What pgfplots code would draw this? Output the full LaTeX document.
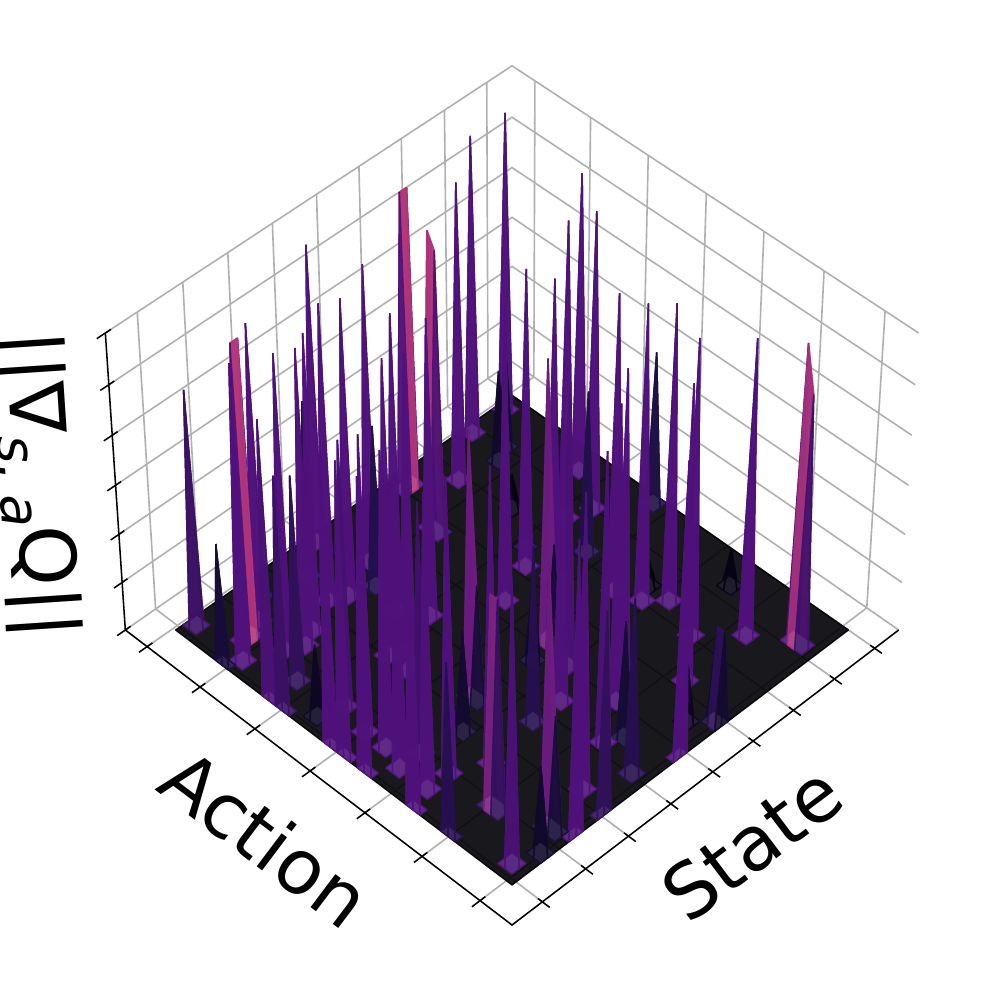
\documentclass[border=0pt]{standalone}
\usepackage{fontspec}
\setmainfont{DejaVu Sans}
\usepackage{pgfplots}
\pgfplotsset{compat=1.18}
\usepackage{pgfplotstable}

% one peak: the four faces round a grid point, back to front
\pgfplotstableread{
di dj p
1 1 0
1 0 0
0 0 1
0 1 0
1 0 0
1 -1 0
0 -1 0
0 0 1
0 1 0
0 0 1
-1 0 0
-1 1 0
0 0 1
0 -1 0
-1 -1 0
-1 0 0
}\peakfaces

% box corners in axes units: a along Action, b along State, w up
\definecolor{gridgray}{RGB}{176,176,176}
\pgfplotsset{
  box/.style={no marks,line width=0.46pt,color=gridgray,forget plot},
  tickline/.style={no marks,line width=0.44pt,color=black,forget plot},
}

\newcommand{\frameline}[2][box]{%
  \addplot[#1] table[x expr={PX(\thisrow{a},\thisrow{b},\thisrow{w})},
    y expr={PY(\thisrow{a},\thisrow{b},\thisrow{w})},row sep=\\] {a b w\\ #2};}

% the surface has no dark floor under a peak: the white pane shows through there
\newcommand{\holebase}[4]{%
  \addplot[fill=white,draw=none,no marks,forget plot]
  table[x expr={PX(G(\thisrow{i}),G(\thisrow{j}),0)},
        y expr={PY(G(\thisrow{i}),G(\thisrow{j}),0)},row sep=\\]
  {i j\\ #1 #2\\ #3 #2\\ #3 #4\\ #1 #4\\} --cycle;}

\newcommand{\spike}[3]{%
  \pgfmathtruncatemacro\im{#1-1}\pgfmathtruncatemacro\ia{#1+1}%
  \pgfmathtruncatemacro\jm{#2-1}\pgfmathtruncatemacro\ja{#2+1}%
  \edef\temp{\noexpand\holebase{\im}{\jm}{\ia}{\ja}}\temp
  \addplot[patch,patch type=rectangle,shader=faceted,faceted color=none,opacity=0.9,
    point meta={#3*\thisrow{p}},forget plot]
  table[x expr={PX(G(#1+\thisrow{di}),G(#2+\thisrow{dj}),#3*\thisrow{p})},
        y expr={PY(G(#1+\thisrow{di}),G(#2+\thisrow{dj}),#3*\thisrow{p})}] {\peakfaces};}

% two neighbouring peaks, given as their faces
\newcommand{\ridgeface}[1]{%
  \addplot[patch,patch type=rectangle,shader=faceted,faceted color=none,opacity=0.9,
    point meta=\thisrow{h},forget plot]
  table[x expr={PX(G(\thisrow{i}),G(\thisrow{j}),\thisrow{h})},
        y expr={PY(G(\thisrow{i}),G(\thisrow{j}),\thisrow{h})},row sep=\\]
  {i j h\\ #1};}
% ridge along i: (I,J) height H and (I+1,J) height K
\newcommand{\ridgei}[4]{%
  \pgfmathtruncatemacro\im{#1-1}\pgfmathtruncatemacro\ia{#1+1}\pgfmathtruncatemacro\ib{#1+2}%
  \pgfmathtruncatemacro\jm{max(#2-1,0)}\pgfmathtruncatemacro\ja{#2+1}%
  \edef\temp{\noexpand\holebase{\im}{\jm}{\ib}{\ja}}\temp
  \edef\temp{\noexpand\ridgeface{%
   \ib\space\ja\space 0\noexpand\\ \ia\space\ja\space 0\noexpand\\ \ia\space#2\space #4\noexpand\\ \ib\space#2\space 0\noexpand\\
   \ia\space\ja\space 0\noexpand\\ #1\space\ja\space 0\noexpand\\ #1\space#2\space #3\noexpand\\ \ia\space#2\space #4\noexpand\\
   \ib\space#2\space 0\noexpand\\ \ia\space#2\space #4\noexpand\\ \ia\space\jm\space 0\noexpand\\ \ib\space\jm\space 0\noexpand\\
   #1\space\ja\space 0\noexpand\\ \im\space\ja\space 0\noexpand\\ \im\space#2\space 0\noexpand\\ #1\space#2\space #3\noexpand\\
   \ia\space#2\space #4\noexpand\\ #1\space#2\space #3\noexpand\\ #1\space\jm\space 0\noexpand\\ \ia\space\jm\space 0\noexpand\\
   #1\space#2\space #3\noexpand\\ \im\space#2\space 0\noexpand\\ \im\space\jm\space 0\noexpand\\ #1\space\jm\space 0\noexpand\\
  }}\temp}
% ridge along j: (I,J) height H and (I,J+1) height K
\newcommand{\ridgej}[4]{%
  \pgfmathtruncatemacro\jm{max(#2-1,0)}\pgfmathtruncatemacro\ja{#2+1}\pgfmathtruncatemacro\jb{#2+2}%
  \pgfmathtruncatemacro\im{max(#1-1,0)}\pgfmathtruncatemacro\ia{#1+1}%
  \edef\temp{\noexpand\holebase{\im}{\jm}{\ia}{\jb}}\temp
  \edef\temp{\noexpand\ridgeface{%
   \ia\space\jb\space 0\noexpand\\ #1\space\jb\space 0\noexpand\\ #1\space\ja\space #4\noexpand\\ \ia\space\ja\space 0\noexpand\\
   #1\space\jb\space 0\noexpand\\ \im\space\jb\space 0\noexpand\\ \im\space\ja\space 0\noexpand\\ #1\space\ja\space #4\noexpand\\
   \ia\space\ja\space 0\noexpand\\ #1\space\ja\space #4\noexpand\\ #1\space#2\space #3\noexpand\\ \ia\space#2\space 0\noexpand\\
   #1\space\ja\space #4\noexpand\\ \im\space\ja\space 0\noexpand\\ \im\space#2\space 0\noexpand\\ #1\space#2\space #3\noexpand\\
   \ia\space#2\space 0\noexpand\\ #1\space#2\space #3\noexpand\\ #1\space\jm\space 0\noexpand\\ \ia\space\jm\space 0\noexpand\\
   #1\space#2\space #3\noexpand\\ \im\space#2\space 0\noexpand\\ \im\space\jm\space 0\noexpand\\ #1\space\jm\space 0\noexpand\\
  }}\temp}

\begin{document}
\begin{tikzpicture}
\path[use as bounding box] (0,0) rectangle (10cm,10cm);
\begin{axis}[at={(0,0)},anchor=south west,width=10cm,height=10cm,scale only axis,
  hide axis,clip=false,xmin=0,xmax=997,ymin=0,ymax=997,y dir=reverse,
  point meta min=0,point meta max=1,
  colormap={magma}{rgb255=(0,0,4) rgb255=(28,16,68) rgb255=(79,18,123) rgb255=(129,37,129)
    rgb255=(181,54,122) rgb255=(229,80,100) rgb255=(251,135,97) rgb255=(254,194,135) rgb255=(252,253,191)},
  declare function={
    DD(\a,\b,\w)=1+0.05*(\a+\b)-0.0516*\w;
    PX(\a,\b,\w)=512+(\b-\a)*406/DD(\a,\b,\w);
    PY(\a,\b,\w)=(925-263.5*(\a+\b)-329*\w)/DD(\a,\b,\w);
    G(\i)=0.065+0.87*max(0,min(49,\i))/49;
  }]

% grid on the panes: state positions on the left pane and floor
\pgfplotsinvokeforeach{0.075,0.183,0.291,0.399,0.507,0.612,0.718,0.827,0.935}{
  \frameline{0 #1 0\\ 1 #1 0\\ 1 #1 1\\}}
% action positions on the right pane and floor
\pgfplotsinvokeforeach{0.079,0.224,0.369,0.510,0.654,0.799,0.941}{
  \frameline{#1 0 0\\ #1 1 0\\ #1 1 1\\}}
% height levels round the two back panes
\pgfplotsinvokeforeach{0,0.167,0.333,0.5,0.667,0.833,1}{
  \frameline{1 0 #1\\ 1 1 #1\\ 0 1 #1\\}}

% floor of the surface
\addplot[patch,patch type=rectangle,shader=faceted,faceted color=none,opacity=0.9,point meta=0,forget plot]
  table[x expr={PX(\thisrow{a},\thisrow{b},0)},y expr={PY(\thisrow{a},\thisrow{b},0)},row sep=\\]
  {a b\\ 0.065 0.065\\ 0.935 0.065\\ 0.935 0.935\\ 0.065 0.935\\};

% peaks, back to front
\spike{48}{47}{1.00}
\spike{48}{42}{1.00}
\spike{44}{43}{0.35}
\spike{43}{41}{0.31}
\spike{44}{36}{1.00}
\spike{36}{46}{1.00}
\ridgej{47}{31}{1.00}{1.00}
\spike{27}{48}{0.52}
\spike{37}{37}{0.12}
\spike{31}{43}{1.00}
\spike{32}{40}{1.00}
\ridgei{40}{29}{0.95}{1.00}
\spike{48}{19}{1.00}
\spike{32}{34}{0.30}
\spike{42}{21}{1.00}
\spike{30}{32}{1.00}
\spike{27}{38}{0.55}
\spike{27}{33}{1.00}
\spike{45}{15}{0.60}
\spike{39}{19}{0.55}
\spike{19}{39}{0.09}
\spike{13}{45}{0.13}
\spike{21}{36}{1.00}
\spike{28}{27}{1.00}
\spike{45}{11}{0.40}
\spike{41}{14}{1.00}
\spike{40}{16}{1.00}
\spike{18}{37}{1.00}
\spike{16}{39}{1.00}
\spike{35}{18}{1.00}
\spike{32}{20}{1.00}
\spike{48}{2}{0.80}
\spike{44}{7}{1.00}
\spike{39}{10}{1.00}
\spike{11}{37}{1.00}
\spike{7}{41}{1.00}
\ridgej{43}{4}{1.00}{1.00}
\ridgei{2}{44}{0.85}{1.00}
\spike{30}{15}{1.00}
\spike{39}{6}{1.00}
\ridgei{20}{26}{0.35}{0.95}
\spike{38}{8}{1.00}
\spike{28}{13}{1.00}
\spike{31}{13}{1.00}
\spike{20}{23}{0.30}
\spike{41}{2}{1.00}
\spike{42}{0}{0.42}
\spike{17}{25}{0.95}
\spike{13}{29}{1.00}
\spike{35}{4}{0.70}
\spike{7}{32}{1.00}
\spike{35}{0}{0.95}
\spike{14}{21}{1.00}
\ridgei{20}{15}{0.40}{0.90}
\spike{33}{0}{0.80}
\spike{10}{25}{1.00}
\spike{29}{5}{0.90}
\spike{30}{2}{0.25}
\spike{14}{17}{0.60}
\spike{3}{28}{0.20}
\spike{18}{11}{0.35}
\ridgei{0}{30}{0.33}{0.33}
\spike{25}{4}{1.00}
\spike{6}{22}{0.40}
\spike{7}{20}{0.98}
\spike{26}{0}{1.00}
\spike{24}{0}{1.00}
\spike{22}{4}{1.00}
\spike{19}{6}{0.85}
\spike{0}{24}{1.00}
\spike{13}{10}{1.00}
\spike{21}{0}{1.00}
\spike{15}{6}{1.00}
\spike{2}{19}{0.60}
\spike{19}{3}{1.00}
\spike{4}{14}{1.00}
\spike{15}{3}{1.00}
\spike{14}{0}{1.00}
\ridgei{8}{6}{0.72}{0.72}
\spike{0}{13}{0.70}
\spike{0}{9}{1.00}
\ridgei{2}{8}{0.40}{0.90}
\spike{9}{0}{0.60}
\spike{1}{5}{0.30}
\spike{2}{2}{0.95}

% axis lines and ticks
\frameline[tickline]{1 0 0\\ 0 0 0\\ 0 1 0\\}
\frameline[tickline]{1 0 0\\ 1 0 1\\}
\pgfplotsinvokeforeach{0.079,0.224,0.369,0.510,0.654,0.799,0.941}{
  \frameline[tickline]{#1 -0.02 0\\ #1 0.013 0\\}}
\pgfplotsinvokeforeach{0.075,0.183,0.291,0.399,0.507,0.612,0.718,0.827,0.935}{
  \frameline[tickline]{-0.018 #1 0\\ 0.011 #1 0\\}}
\pgfplotsinvokeforeach{0,0.167,0.333,0.5,0.667,0.833,1}{
  \frameline[tickline]{1 -0.02 #1\\ 1 0.013 #1\\}}

\node[rotate=-37,font=\fontsize{21.6}{24}\selectfont] at (axis cs:266,838) {Action};
\node[rotate=37,font=\fontsize{21.6}{24}\selectfont] at (axis cs:752,843) {State};
\node[rotate=-86.2,font=\fontsize{22}{24}\selectfont] at (axis cs:34,485)
  {||∇\raisebox{-0.2em}{\fontsize{15.5}{18}\selectfont\itshape s,\hspace{0.25em}a}Q||};
\end{axis}
\end{tikzpicture}
\end{document}
